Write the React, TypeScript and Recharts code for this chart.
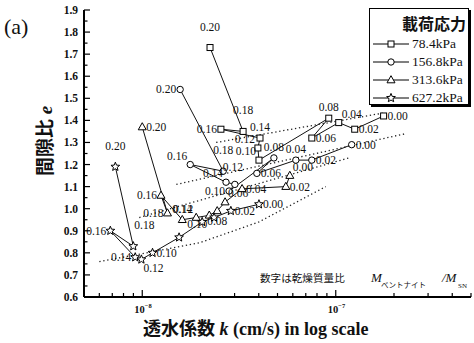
import React from 'react';
import { ComposedChart, Scatter, XAxis, YAxis, Legend } from 'recharts';

// dry mass ratio M_bentonite / M_SN (label of each point)
const ratios = ['0.20', '0.18', '0.16', '0.14', '0.12', '0.10', '0.08', '0.06', '0.04', '0.02', '0.00'];

// 78.4 kPa (square)
const kSquare = [2.24e-8, 3.32e-8, 2.55e-8, 4.06e-8, 3.96e-8, 4.01e-8, 9.2e-8, 7.52e-8, 1.036e-7, 1.253e-7, 1.767e-7];
const eSquare = [1.73, 1.35, 1.36, 1.32, 1.275, 1.22, 1.41, 1.32, 1.39, 1.36, 1.42];
const sideSquare = ['T', 'T', 'l', 't', 'tl', 'tl', 't', 'r', 'tr', 'r', 'r'];

// 156.8 kPa (circle)
const kCircle = [1.57e-8, 2.62e-8, 1.77e-8, 2.71e-8, 3.01e-8, 2.81e-8, 4.79e-8, 3.91e-8, 6.22e-8, 7.52e-8, 1.209e-7];
const eCircle = [1.54, 1.17, 1.2, 1.12, 1.11, 1.08, 1.23, 1.16, 1.22, 1.22, 1.29];
const sideCircle = ['l', 'T', 'tl', 'tl', 'm', 'l', 't', 'r', 't', 'r', 'r'];

// 313.6 kPa (triangle)
const kTriangle = [1.0e-8, 1.35e-8, 1.25e-8, 1.61e-8, 1.9e-8, 2.22e-8, 2.44e-8, 2.68e-8, 3.28e-8, 5.52e-8, 5.79e-8];
const eTriangle = [1.37, 0.98, 1.06, 0.95, 0.96, 0.97, 0.99, 1.03, 1.09, 1.1, 1.15];
const sideTriangle = ['r', 'l', 'l', 't', 'tl', 'bl', 'b', 'tr', 'r', 'r', 'tr'];

// 627.2 kPa (star)
const kStar = [7.26e-9, 8.99e-9, 6.84e-9, 9.2e-9, 9.9e-9, 1.13e-8, 1.55e-8, 2.04e-8, 2.35e-8, 2.87e-8, 4.01e-8];
const eStar = [1.19, 0.83, 0.9, 0.78, 0.77, 0.8, 0.87, 0.94, 0.96, 0.99, 1.02];
const sideStar = ['T', 'Tr', 'l', 'l', 'br', 'r', 'n', 'n', 'n', 'r', 'r'];

// dotted trend lines
const trend1K = [2.41e-8, 1.75e-7];
const trend1E = [1.3, 1.433];
const trend2K = [1.5e-8, 2.3e-7];
const trend2E = [1.11, 1.34];
const trend3K = [9.65e-9, 1.17e-7];
const trend3E = [0.96, 1.23];
const trend4K = [6.0e-9, 1.97e-8, 4.01e-8, 8.88e-8];
const trend4E = [0.76, 0.845, 0.94, 1.1];

const xTicks = [5e-9, 6e-9, 7e-9, 8e-9, 9e-9, 1e-8, 2e-8, 3e-8, 4e-8, 5e-8, 6e-8, 7e-8, 8e-8, 9e-8, 1e-7, 2e-7, 3e-7, 4e-7, 5e-7];
const yTicks = [0.6, 0.65, 0.7, 0.75, 0.8, 0.85, 0.9, 0.95, 1.0, 1.05, 1.1, 1.15, 1.2, 1.25, 1.3, 1.35, 1.4, 1.45, 1.5, 1.55, 1.6, 1.65, 1.7, 1.75, 1.8, 1.85, 1.9];

const series = [
  { name: '78.4kPa', shape: 'square', k: kSquare, e: eSquare, side: sideSquare },
  { name: '156.8kPa', shape: 'circle', k: kCircle, e: eCircle, side: sideCircle },
  { name: '313.6kPa', shape: 'triangle', k: kTriangle, e: eTriangle, side: sideTriangle },
  { name: '627.2kPa', shape: 'star', k: kStar, e: eStar, side: sideStar },
];
const trends = [
  { k: trend1K, e: trend1E },
  { k: trend2K, e: trend2E },
  { k: trend3K, e: trend3E },
  { k: trend4K, e: trend4E },
];

const SERIF = '"Liberation Serif", "DejaVu Serif", serif';
const CJK = '"Noto Sans CJK JP", sans-serif';

function Marker({ type, cx, cy }: { type: string; cx: number; cy: number }) {
  const st = { fill: '#fff', stroke: '#000', strokeWidth: 1 };
  if (type === 'square') return <rect x={cx - 3} y={cy - 3} width={6} height={6} {...st} />;
  if (type === 'circle') return <circle cx={cx} cy={cy} r={3.2} {...st} />;
  if (type === 'triangle')
    return <polygon points={`${cx},${cy - 4.3} ${cx - 4},${cy + 2.8} ${cx + 4},${cy + 2.8}`} {...st} />;
  const pts: string[] = [];
  for (let i = 0; i < 10; i++) {
    const r = i % 2 === 0 ? 4.6 : 2.0;
    const a = -Math.PI / 2 + (i * Math.PI) / 5;
    pts.push(`${cx + r * Math.cos(a)},${cy + r * Math.sin(a)}`);
  }
  return <polygon points={pts.join(' ')} {...st} />;
}

function labelPos(side: string, cx: number, cy: number) {
  switch (side) {
    case 't': return { x: cx, y: cy - 7, a: 'middle' };
    case 'm': return { x: cx - 2, y: cy - 13, a: 'middle' };
    case 'T': return { x: cx, y: cy - 17, a: 'middle' };
    case 'Tr': return { x: cx + 1, y: cy - 17, a: 'start' };
    case 'b': return { x: cx, y: cy + 14, a: 'middle' };
    case 'l': return { x: cx - 4, y: cy + 4, a: 'end' };
    case 'r': return { x: cx + 4, y: cy + 4, a: 'start' };
    case 'tl': return { x: cx - 3, y: cy - 5, a: 'end' };
    case 'tr': return { x: cx + 3, y: cy - 5, a: 'start' };
    case 'bl': return { x: cx - 2, y: cy + 13, a: 'end' };
    case 'br': return { x: cx + 2, y: cy + 13, a: 'start' };
    default: return null;
  }
}

const makeShape = (type: string, side: string[]) => (props: any) => {
  const { cx, cy, payload } = props;
  if (cx == null || cy == null) return <g />;
  const p = labelPos(side[payload.i], cx, cy);
  return (
    <g>
      <Marker type={type} cx={cx} cy={cy} />
      {p && (
        <text x={p.x} y={p.y} textAnchor={p.a as any} fontFamily={SERIF} fontSize={11.5} fill="#111">
          {payload.r}
        </text>
      )}
    </g>
  );
};

const XTick = (props: any) => {
  const { x, y, payload } = props;
  const v = payload.value;
  const lg = Math.log10(v);
  const major = Math.abs(lg - Math.round(lg)) < 1e-6;
  return (
    <g>
      <line x1={x} y1={y} x2={x} y2={y - (major ? 7 : 4)} stroke="#000" strokeWidth={1.2} />
      {major && (
        <text x={x - 8} y={y + 16} fontFamily={SERIF} fontWeight="bold" fontSize={10.5} fill="#111">
          10
          <tspan dy={-5} fontSize={6.5}>{`−${-Math.round(lg)}`}</tspan>
        </text>
      )}
    </g>
  );
};

const YTick = (props: any) => {
  const { x, y, payload } = props;
  const v = payload.value;
  const major = Math.abs(v * 10 - Math.round(v * 10)) < 1e-6;
  return (
    <g>
      <line x1={x} y1={y} x2={x + (major ? 6 : 3.5)} y2={y} stroke="#000" strokeWidth={1.2} />
      {major && (
        <text x={x - 6} y={y + 4} textAnchor="end" fontFamily={SERIF} fontWeight="bold" fontSize={11.5} fill="#111">
          {v.toFixed(1)}
        </text>
      )}
    </g>
  );
};

const LegendBox = () => (
  <div
    style={{
      border: '1px solid #000',
      boxShadow: '2px 2px 0 #000',
      background: '#fff',
      width: 100,
      height: 97,
      boxSizing: 'border-box',
      position: 'relative',
      fontFamily: SERIF,
      color: '#111',
    }}
  >
    <div
      style={{
        position: 'absolute',
        right: 2,
        top: 5,
        fontFamily: CJK,
        fontWeight: 700,
        fontSize: 16,
        lineHeight: '18px',
        whiteSpace: 'nowrap',
      }}
    >
      載荷応力
    </div>
    {series.map((s, i) => (
      <div
        key={s.name}
        style={{ position: 'absolute', left: 1, top: 26 + i * 18, height: 18, display: 'flex', alignItems: 'center', whiteSpace: 'nowrap' }}
      >
        <svg width={39} height={18} style={{ display: 'block' }}>
          <line x1={2} y1={9} x2={38} y2={9} stroke="#000" strokeWidth={1} />
          <Marker type={s.shape} cx={20} cy={9} />
        </svg>
        <span style={{ fontSize: 13.5, marginLeft: 2, lineHeight: '18px' }}>{s.name}</span>
      </div>
    ))}
  </div>
);

export default function App() {
  const seriesData = series.map((s) => s.k.map((k, i) => ({ k, e: s.e[i], r: ratios[i], i })));
  const trendData = trends.map((t) => t.k.map((k, i) => ({ k, e: t.e[i] })));
  return (
    <div style={{ position: 'absolute', left: 0, top: 0, width: 474, height: 343, background: '#fff' }}>
      <ComposedChart width={474} height={343} margin={{ top: 10, right: 3, bottom: 0, left: 0 }}>
        <XAxis
          xAxisId={0}
          dataKey="k"
          type="number"
          scale="log"
          domain={[5e-9, 5e-7]}
          allowDataOverflow
          ticks={xTicks}
          interval={0}
          tick={<XTick />}
          tickLine={false}
          tickSize={0}
          tickMargin={0}
          height={46}
          axisLine={{ stroke: '#000', strokeWidth: 2 }}
        />
        <XAxis
          xAxisId="top"
          orientation="top"
          type="number"
          domain={[0, 1]}
          tick={false}
          tickLine={false}
          height={0}
          axisLine={{ stroke: '#000', strokeWidth: 1.5 }}
        />
        <YAxis
          yAxisId={0}
          dataKey="e"
          type="number"
          domain={[0.6, 1.9]}
          allowDataOverflow
          ticks={yTicks}
          interval={0}
          tick={<YTick />}
          tickLine={false}
          tickSize={0}
          tickMargin={0}
          width={84}
          axisLine={{ stroke: '#000', strokeWidth: 2 }}
        />
        <YAxis
          yAxisId="right"
          orientation="right"
          type="number"
          domain={[0, 1]}
          tick={false}
          tickLine={false}
          width={0}
          axisLine={{ stroke: '#000', strokeWidth: 1.5 }}
        />
        {trendData.map((d, i) => (
          <Scatter
            key={`t${i}`}
            data={d}
            xAxisId={0}
            yAxisId={0}
            line={{ stroke: '#222', strokeWidth: 1.3, strokeDasharray: '1.3 2.7' }}
            lineType="joint"
            shape={() => <g />}
            legendType="none"
            isAnimationActive={false}
          />
        ))}
        {series.map((s, si) => (
          <Scatter
            key={s.name}
            name={s.name}
            data={seriesData[si]}
            xAxisId={0}
            yAxisId={0}
            line={{ stroke: '#111', strokeWidth: 1 }}
            lineType="joint"
            shape={makeShape(s.shape, s.side)}
            isAnimationActive={false}
          />
        ))}
        <Legend
          layout="vertical"
          align="center"
          verticalAlign="middle"
          content={() => <LegendBox />}
          wrapperStyle={{ position: 'absolute', left: 369, top: 8, width: 102, height: 99 }}
        />
      </ComposedChart>
      <svg width={474} height={343} style={{ position: 'absolute', left: 0, top: 0, pointerEvents: 'none' }}>
        <text x={4} y={34} fontFamily={SERIF} fontSize={22} fill="#111">(a)</text>
        <text transform="translate(52,141) rotate(-90)" textAnchor="middle" fontSize={19} fontWeight="bold" fill="#111">
          <tspan fontFamily={CJK}>間隙比</tspan>
          <tspan fontFamily={SERIF} fontStyle="italic"> e</tspan>
        </text>
        <text x={143} y={335} fontSize={18} fontWeight="bold" fill="#111">
          <tspan fontFamily={CJK}>透水係数</tspan>
          <tspan fontFamily={SERIF} fontStyle="italic"> k</tspan>
          <tspan fontFamily={SERIF}> (cm/s) in log scale</tspan>
        </text>
        <text x={260} y={282} fontFamily={CJK} fontSize={10.6} fill="#111">数字は乾燥質量比</text>
        <text x={371} y={282} fontFamily={SERIF} fontStyle="italic" fontSize={13} fill="#111">M</text>
        <text x={381} y={288} fontFamily={CJK} fontSize={7.5} fill="#111">ベントナイト</text>
        <text x={442} y={282} fontFamily={SERIF} fontStyle="italic" fontSize={13} fill="#111">/M</text>
        <text x={458} y={288} fontFamily={SERIF} fontSize={7} fill="#111">SN</text>
      </svg>
    </div>
  );
}
